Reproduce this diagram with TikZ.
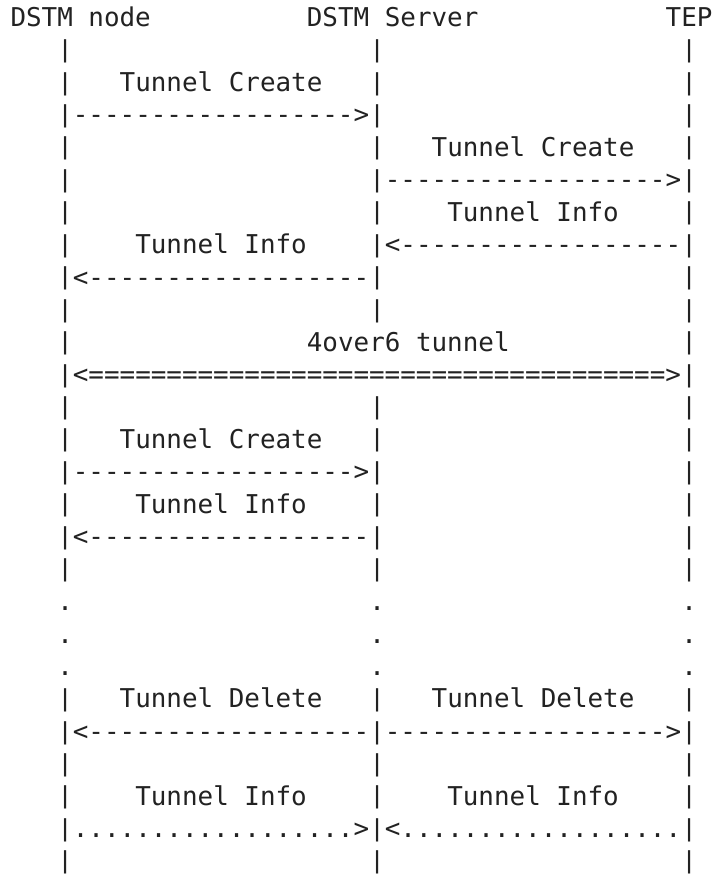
\documentclass[tikz,border=0pt]{standalone}
\usepackage{graphicx}
\usepackage{fontspec}
\setmonofont{DejaVu Sans Mono}
\definecolor{ink}{HTML}{222222}
\tikzset{
  txt/.style={inner sep=0pt, outer sep=0pt, anchor=base west,
    font=\ttfamily\fontsize{25.9pt}{30pt}\selectfont, text=ink}
}
% row, column, text
\newcommand\putcell[3]{\node[txt] (c#1x#2) at ({(10.5+#2*15.6)*1pt},{-(26.5+#1*32.45)*1pt}) {#3};}
\newcommand\vbar{\raisebox{1.4pt}{\scalebox{1}[0.9]{|}}}
\newcommand\lifebars[1]{\putcell{#1}{3}{\vbar}\putcell{#1}{23}{\vbar}\putcell{#1}{43}{\vbar}}
\newcommand\gaprow[1]{\putcell{#1}{3}{.}\putcell{#1}{23}{.}\putcell{#1}{43}{.}}
\begin{document}
\begin{tikzpicture}
\fill[white] (0,0) rectangle (715pt,-875pt);
\useasboundingbox (0,0) rectangle (715pt,-875pt);
% header
\putcell{0}{0}{DSTM node}
\putcell{0}{19}{DSTM Server}
\putcell{0}{42}{TEP}
% rows
\lifebars{1}
\lifebars{2}\putcell{2}{7}{Tunnel Create}
\lifebars{3}\putcell{3}{4}{------------------>}
\lifebars{4}\putcell{4}{27}{Tunnel Create}
\lifebars{5}\putcell{5}{24}{------------------>}
\lifebars{6}\putcell{6}{28}{Tunnel Info}
\lifebars{7}\putcell{7}{8}{Tunnel Info}\putcell{7}{24}{<------------------}
\lifebars{8}\putcell{8}{4}{<------------------}
\lifebars{9}
\putcell{10}{3}{\vbar}\putcell{10}{43}{\vbar}\putcell{10}{19}{4over6 tunnel}
\putcell{11}{3}{\vbar}\putcell{11}{43}{\vbar}\putcell{11}{4}{<=====================================>}
\lifebars{12}
\lifebars{13}\putcell{13}{7}{Tunnel Create}
\lifebars{14}\putcell{14}{4}{------------------>}
\lifebars{15}\putcell{15}{8}{Tunnel Info}
\lifebars{16}\putcell{16}{4}{<------------------}
\lifebars{17}
\gaprow{18}
\gaprow{19}
\gaprow{20}
\lifebars{21}\putcell{21}{7}{Tunnel Delete}\putcell{21}{27}{Tunnel Delete}
\lifebars{22}\putcell{22}{4}{<------------------}\putcell{22}{24}{------------------>}
\lifebars{23}
\lifebars{24}\putcell{24}{8}{Tunnel Info}\putcell{24}{28}{Tunnel Info}
\lifebars{25}\putcell{25}{4}{..................>}\putcell{25}{24}{<..................}
\lifebars{26}
\end{tikzpicture}
\end{document}
